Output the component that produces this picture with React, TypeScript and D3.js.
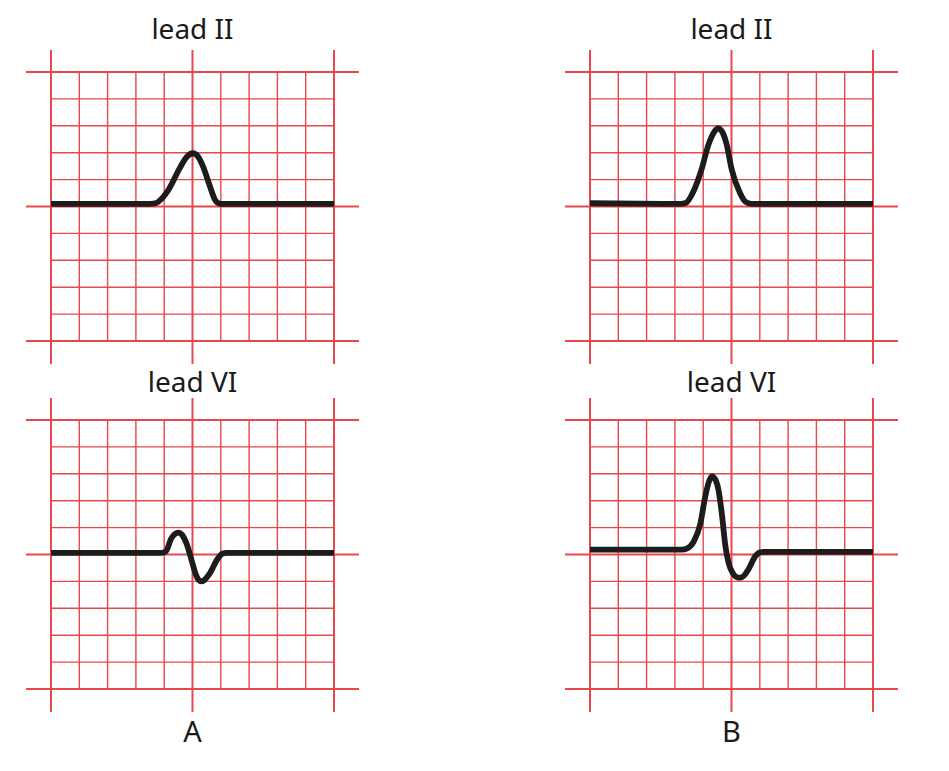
import * as d3 from 'd3';
import React, {useRef, useEffect} from 'react';

// grid: 10 x 10 small boxes per panel, values in box units
const gridTicks = [0, 1, 2, 3, 4, 5, 6, 7, 8, 9, 10];
const thickTicks = [0, 5, 10];

const columns = ['A', 'B'];
const rowLabels = ['lead II', 'lead VI'];

// traces: [x in boxes, amplitude in boxes above baseline]
const leadIIA = [[0, 0.1], [3.5, 0.1], [3.72, 0.13], [3.9, 0.28], [4.19, 0.69], [4.54, 1.41], [4.8, 1.85], [5.01, 1.98], [5.2, 1.85], [5.36, 1.52], [5.6, 0.8], [5.8, 0.24], [5.95, 0.11], [6.1, 0.1], [10, 0.1]];
const leadIIB = [[0, 0.12], [3.2, 0.1], [3.38, 0.13], [3.65, 0.55], [3.95, 1.41], [4.18, 2.28], [4.38, 2.76], [4.53, 2.9], [4.68, 2.76], [4.83, 2.3], [5.0, 1.41], [5.3, 0.5], [5.5, 0.17], [5.7, 0.1], [10, 0.1]];
const leadVIA = [[0, 0.06], [3.9, 0.06], [4.06, 0.12], [4.25, 0.6], [4.4, 0.78], [4.52, 0.81], [4.64, 0.72], [4.78, 0.43], [5.01, -0.37], [5.13, -0.78], [5.22, -0.95], [5.31, -1.0], [5.42, -0.95], [5.6, -0.72], [5.89, -0.16], [6.05, 0.03], [6.2, 0.06], [10, 0.06]];
const leadVIB = [[0, 0.18], [3.25, 0.18], [3.42, 0.22], [3.66, 0.47], [3.9, 1.15], [4.07, 2.14], [4.2, 2.7], [4.31, 2.9], [4.43, 2.78], [4.54, 2.4], [4.66, 1.5], [4.78, 0.35], [4.9, -0.33], [5.05, -0.7], [5.2, -0.85], [5.31, -0.86], [5.45, -0.78], [5.6, -0.55], [5.85, -0.05], [6.0, 0.08], [6.2, 0.1], [10, 0.1]];

const traces = [[leadIIA, leadIIB], [leadVIA, leadVIB]];

function App() {
  const ref = useRef(null);

  useEffect(() => {
    const svg = d3.select(ref.current);
    svg.selectAll('*').remove();

    const lefts = [51, 590];
    const tops = [72, 420];
    const labelY = [38.5, 392];
    const w = 283, h = 269;
    const red = '#e8474c';

    rowLabels.forEach((label, r) => {
      columns.forEach((col, c) => {
        const x = d3.scaleLinear().domain([0, 10]).range([lefts[c], lefts[c] + w]);
        const y = d3.scaleLinear().domain([-5, 5]).range([tops[r] + h, tops[r]]);
        const g = svg.append('g');

        // thin grid
        g.selectAll('line.v')
          .data(gridTicks.filter(t => !thickTicks.includes(t)))
          .enter().append('line')
          .attr('x1', d => x(d)).attr('x2', d => x(d))
          .attr('y1', y(5)).attr('y2', y(-5))
          .attr('stroke', red).attr('stroke-width', 1.4);
        g.selectAll('line.h')
          .data(gridTicks.filter(t => !thickTicks.includes(t)))
          .enter().append('line')
          .attr('y1', d => y(d - 5)).attr('y2', d => y(d - 5))
          .attr('x1', x(0)).attr('x2', x(10))
          .attr('stroke', red).attr('stroke-width', 1.4);

        // heavy lines running past the grid
        g.selectAll('line.tv')
          .data(thickTicks)
          .enter().append('line')
          .attr('x1', d => x(d)).attr('x2', d => x(d))
          .attr('y1', y(5) - 22).attr('y2', y(-5) + 23)
          .attr('stroke', red).attr('stroke-width', 2);
        g.selectAll('line.th')
          .data(thickTicks)
          .enter().append('line')
          .attr('y1', d => y(d - 5)).attr('y2', d => y(d - 5))
          .attr('x1', x(0) - 25).attr('x2', x(10) + 25)
          .attr('stroke', red).attr('stroke-width', 2);

        const line = d3.line()
          .x(d => x(d[0]))
          .y(d => y(d[1]))
          .curve(d3.curveMonotoneX);
        g.append('path')
          .attr('d', line(traces[r][c]))
          .attr('fill', 'none')
          .attr('stroke', '#1c1c1c')
          .attr('stroke-width', 5.8)
          .attr('stroke-linejoin', 'round');

        g.append('text')
          .attr('x', x(5))
          .attr('y', labelY[r])
          .attr('text-anchor', 'middle')
          .attr('font-family', 'Noto Sans')
          .attr('font-size', 28)
          .attr('fill', '#1a1a1a')
          .text(label);

        if (r === 1) {
          g.append('text')
            .attr('x', x(5))
            .attr('y', 742)
            .attr('text-anchor', 'middle')
            .attr('font-family', 'Noto Sans')
            .attr('font-size', 29)
            .attr('fill', '#1a1a1a')
            .text(col);
        }
      });
    });
  }, []);

  return (
    <div className="chart">
      <svg ref={ref} width={949} height={771} style={{position: 'absolute', left: 0, top: 0, background: '#fff'}}>
      </svg>
    </div>
  );
}

export default App;
